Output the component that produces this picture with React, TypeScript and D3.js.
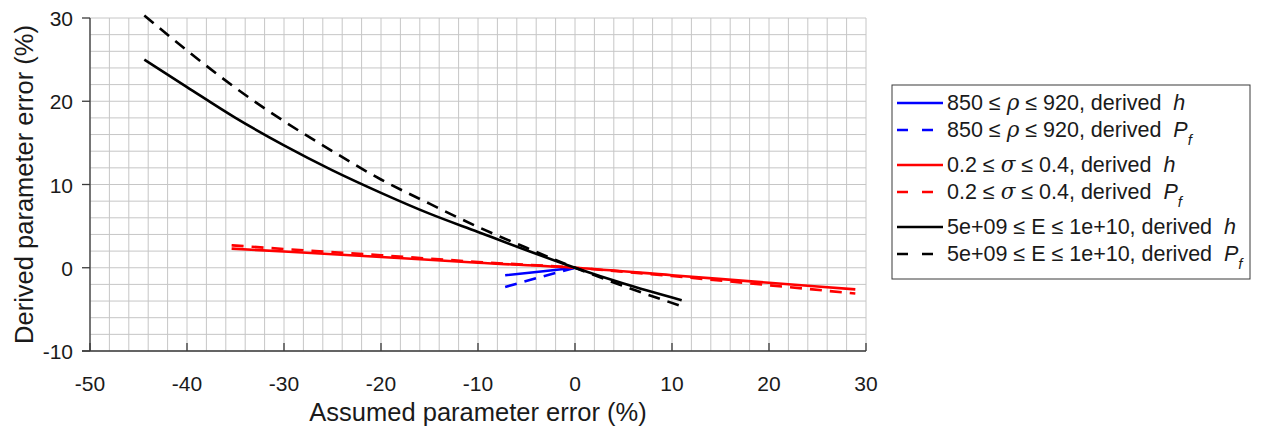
import React from "react";
import * as d3 from "d3";

// series (assumed error %, derived error %)
const rhoX = [-7.2, -3.5, 0];
const rhoH = [-0.9, -0.45, 0];
const rhoPf = [-2.3, -1.1, 0];

const sigmaX = [-35.4, -30, -20, -10, 0, 10, 20, 28.9];
const sigmaH = [2.3, 1.95, 1.3, 0.6, 0, -0.9, -1.8, -2.6];
const sigmaPf = [2.7, 2.25, 1.5, 0.7, 0, -1.0, -2.1, -3.1];

const eX = [-44.4, -40, -35, -30, -25, -20, -15, -10, -5, 0, 5, 11];
const eH = [25.0, 21.7, 18.0, 14.7, 11.7, 9.0, 6.5, 4.3, 2.1, 0, -1.9, -3.9];
const ePfX = [-44.4, -40, -35, -30, -25, -20, -15, -10, -5, 0, 5, 10.7];
const ePf = [30.3, 26.1, 21.6, 17.6, 14.0, 10.6, 7.7, 4.9, 2.4, 0, -2.2, -4.5];

const xTicks = [-50, -40, -30, -20, -10, 0, 10, 20, 30];
const yTicks = [-10, 0, 10, 20, 30];

const legendItems = [
  { prefix: "850 ≤ ", sym: "ρ", mid: " ≤ 920, derived  ", out: "h", color: "#0000ff", dashed: false },
  { prefix: "850 ≤ ", sym: "ρ", mid: " ≤ 920, derived  ", out: "P", color: "#0000ff", dashed: true },
  { prefix: "0.2 ≤ ", sym: "σ", mid: " ≤ 0.4, derived  ", out: "h", color: "#ff0000", dashed: false },
  { prefix: "0.2 ≤ ", sym: "σ", mid: " ≤ 0.4, derived  ", out: "P", color: "#ff0000", dashed: true },
  { prefix: "5e+09 ≤ E ≤ 1e+10, derived  ", sym: "", mid: "", out: "h", color: "#000000", dashed: false },
  { prefix: "5e+09 ≤ E ≤ 1e+10, derived  ", sym: "", mid: "", out: "P", color: "#000000", dashed: true },
];

const W = 1261;
const H = 431;
const FONT = "'Liberation Sans', Arial, sans-serif";

export default function App() {
  const x = d3.scaleLinear().domain([-50, 30]).range([90, 866]);
  const y = d3.scaleLinear().domain([-10, 30]).range([351, 18]);

  const line = d3
    .line<[number, number]>()
    .x((d) => x(d[0]))
    .y((d) => y(d[1]))
    .curve(d3.curveMonotoneX);

  const zip = (xs: number[], ys: number[]) =>
    xs.map((v, i) => [v, ys[i]] as [number, number]);

  const series = [
    { pts: zip(rhoX, rhoH), color: "#0000ff", dashed: false },
    { pts: zip(rhoX, rhoPf), color: "#0000ff", dashed: true },
    { pts: zip(sigmaX, sigmaH), color: "#ff0000", dashed: false },
    { pts: zip(sigmaX, sigmaPf), color: "#ff0000", dashed: true },
    { pts: zip(eX, eH), color: "#000000", dashed: false },
    { pts: zip(ePfX, ePf), color: "#000000", dashed: true },
  ];

  const xMinor = d3.range(-50, 31, 2);
  const yMinor = d3.range(-10, 31, 2);

  const legLeft = 892;
  const legTop = 85;
  const rowY = (i: number) => legTop + 18 + i * 27 + Math.floor(i / 2) * 8;

  return (
    <svg
      width={W}
      height={H}
      style={{ position: "absolute", left: 0, top: 0, background: "#fff" }}
      fontFamily={FONT}
    >
      {/* grid */}
      <g stroke="#c6c6c6" strokeWidth={1}>
        {xMinor.map((v) => (
          <line key={"gx" + v} x1={x(v)} x2={x(v)} y1={y(-10)} y2={y(30)} />
        ))}
        {yMinor.map((v) => (
          <line key={"gy" + v} x1={x(-50)} x2={x(30)} y1={y(v)} y2={y(v)} />
        ))}
      </g>

      {/* axes */}
      <g stroke="#3a3a3a" strokeWidth={1.3}>
        <line x1={x(-50)} x2={x(-50)} y1={y(-10)} y2={y(30)} />
        <line x1={x(-50) - 8} x2={x(30)} y1={y(-10)} y2={y(-10)} />
        {xTicks.map((v) => (
          <line key={"tx" + v} x1={x(v)} x2={x(v)} y1={y(-10)} y2={y(-10) - 8} />
        ))}
        {yTicks.map((v) => (
          <line key={"ty" + v} x1={x(-50) - 8} x2={x(-50)} y1={y(v)} y2={y(v)} />
        ))}
      </g>

      <g fontSize={21} fill="#1a1a1a">
        {xTicks.map((v) => (
          <text key={"lx" + v} x={x(v)} y={y(-10) + 40} textAnchor="middle">
            {v}
          </text>
        ))}
        {yTicks.map((v) => (
          <text key={"ly" + v} x={x(-50) - 17} y={y(v) + 8} textAnchor="end">
            {v}
          </text>
        ))}
      </g>

      <text x={x(-10)} y={421} textAnchor="middle" fontSize={25.5} fill="#1a1a1a">
        Assumed parameter error (%)
      </text>
      <text
        transform={`translate(33, ${y(10)}) rotate(-90)`}
        textAnchor="middle"
        fontSize={25.5}
        fill="#1a1a1a"
      >
        Derived parameter error (%)
      </text>

      {/* curves */}
      {series.map((s, i) => (
        <path
          key={"s" + i}
          d={line(s.pts) || ""}
          fill="none"
          stroke={s.color}
          strokeWidth={2.6}
          strokeDasharray={s.dashed ? "12 8" : undefined}
        />
      ))}

      {/* legend */}
      <rect
        x={legLeft}
        y={legTop}
        width={358}
        height={194}
        fill="#fff"
        stroke="#3a3a3a"
        strokeWidth={1}
      />
      {legendItems.map((it, i) => (
        <g key={"lg" + i}>
          <line
            x1={legLeft + 5}
            x2={legLeft + 51}
            y1={rowY(i)}
            y2={rowY(i)}
            stroke={it.color}
            strokeWidth={2.6}
            strokeDasharray={it.dashed ? "11 14" : undefined}
          />
          <text
            x={legLeft + 55}
            y={rowY(i) + 7}
            fontSize={21.5}
            fill="#1a1a1a"
            style={{ whiteSpace: "pre" }}
          >
            {it.prefix}
            {it.sym && <tspan fontStyle="italic" fontFamily="'DejaVu Serif', serif">{it.sym}</tspan>}
            {it.mid}
            <tspan fontStyle="italic">{it.out}</tspan>
            {it.out === "P" && (
              <tspan fontStyle="italic" fontSize={15} dy={8}>
                f
              </tspan>
            )}
          </text>
        </g>
      ))}
    </svg>
  );
}
